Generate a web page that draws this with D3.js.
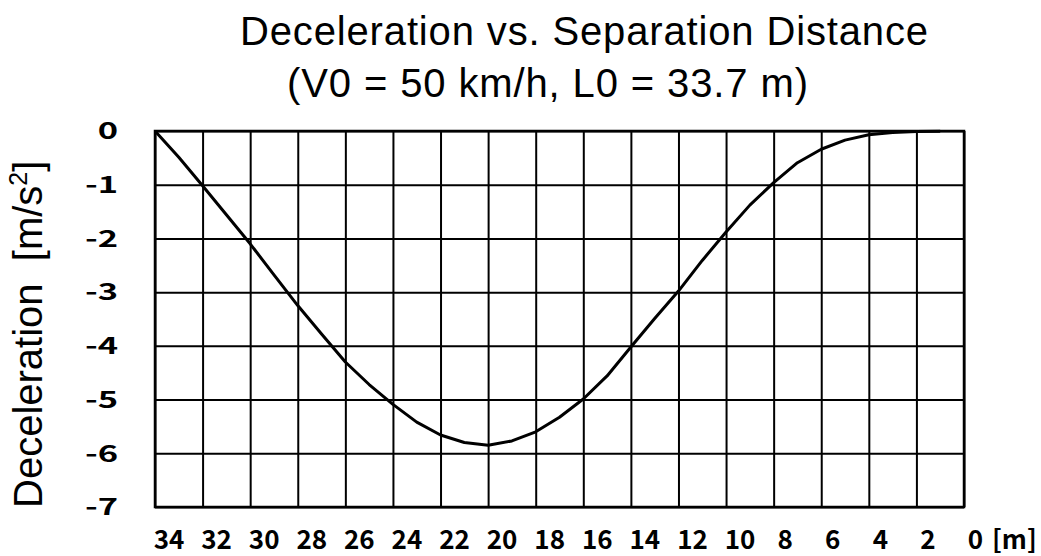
<!DOCTYPE html>
<html>
<head>
<meta charset="utf-8">
<script src="https://cdn.jsdelivr.net/npm/d3@7"></script>
<style>
  html, body { margin: 0; padding: 0; background: #fff; }
  svg { display: block; }
</style>
</head>
<body>
<svg id="chart" width="1041" height="556"></svg>
<script>
// Separation distance [m] (sampled every metre)
const distance = [34, 33, 32, 31, 30, 29, 28, 27, 26, 25, 24, 23, 22, 21, 20, 19, 18,
                  17, 16, 15, 14, 13, 12, 11, 10, 9, 8, 7, 6, 5, 4, 3, 2, 1];
// Deceleration [m/s^2] at each separation distance
const deceleration = [0, -0.49, -1.02, -1.56, -2.10, -2.68, -3.25, -3.78, -4.30, -4.72,
                      -5.09, -5.42, -5.66, -5.80, -5.85, -5.77, -5.60, -5.33, -4.99, -4.56,
                      -4.02, -3.49, -2.98, -2.41, -1.88, -1.38, -0.96, -0.59, -0.34, -0.17,
                      -0.07, -0.03, -0.01, -0.005];
// Axis ticks
const xTicks = [34, 32, 30, 28, 26, 24, 22, 20, 18, 16, 14, 12, 10, 8, 6, 4, 2, 0];
const yTicks = [0, -1, -2, -3, -4, -5, -6, -7];

const titleLine1 = "Deceleration vs. Separation Distance";
const titleLine2 = "(V0 = 50 km/h, L0 = 33.7 m)";

const svg = d3.select("#chart");
const plot = { left: 155, right: 964, top: 131, bottom: 507 };

const x = d3.scaleLinear().domain([34, 0]).range([plot.left, plot.right]);
const y = d3.scaleLinear().domain([0, -7]).range([plot.top, plot.bottom]);

const W = plot.right - plot.left;
const H = plot.bottom - plot.top;

// Grid: vertical lines every 2 m
const gx = svg.append("g")
  .attr("transform", `translate(0,${plot.bottom})`)
  .call(d3.axisBottom(x).tickValues(xTicks).tickSize(-H).tickFormat(""));
// Grid: horizontal lines every 1 m/s^2
const gy = svg.append("g")
  .attr("transform", `translate(${plot.left},0)`)
  .call(d3.axisLeft(y).tickValues(yTicks).tickSize(-W).tickFormat(""));

[gx, gy].forEach(g => {
  g.select(".domain").remove();
  g.selectAll(".tick line").attr("stroke", "#000").attr("stroke-width", 2);
});

// Plot frame
svg.append("rect")
  .attr("x", plot.left).attr("y", plot.top)
  .attr("width", W).attr("height", H)
  .attr("fill", "none").attr("stroke", "#000").attr("stroke-width", 2.5);

// Deceleration curve
const line = d3.line()
  .x((d, i) => x(distance[i]))
  .y(d => y(d));

svg.append("path")
  .datum(deceleration)
  .attr("fill", "none")
  .attr("stroke", "#000")
  .attr("stroke-width", 3)
  .attr("stroke-linejoin", "round")
  .attr("d", line);

// Y tick labels
svg.append("g").selectAll("text")
  .data(yTicks)
  .join("text")
  .attr("transform", d => `translate(118,${y(d)}) scale(1.5,1)`)
  .attr("text-anchor", "end")
  .attr("dy", "0.36em")
  .attr("font-family", "'Noto Sans CJK JP', sans-serif")
  .attr("font-weight", "bold")
  .attr("font-size", 23)
  .attr("fill", "#000")
  .text(d => d);

// X tick labels
svg.append("g").selectAll("text")
  .data(xTicks)
  .join("text")
  .attr("x", d => x(d) + (String(d).length > 1 ? 14 : 11.5))
  .attr("y", 549)
  .attr("text-anchor", "middle")
  .attr("font-family", "'Noto Sans CJK JP', sans-serif")
  .attr("font-weight", "bold")
  .attr("font-size", 26)
  .attr("fill", "#000")
  .text(d => d);

// Unit label for the x axis
svg.append("text")
  .attr("x", 992).attr("y", 549)
  .attr("font-family", "'Noto Sans CJK JP', sans-serif")
  .attr("font-weight", "bold")
  .attr("font-size", 26)
  .attr("fill", "#000")
  .text("[m]");

// Title
svg.append("text")
  .attr("x", 240).attr("y", 45)
  .attr("font-family", "'Liberation Sans', Arial, sans-serif")
  .attr("font-size", 40)
  .attr("textLength", 688)
  .attr("lengthAdjust", "spacing")
  .attr("fill", "#000")
  .text(titleLine1);

svg.append("text")
  .attr("x", 287).attr("y", 97)
  .attr("font-family", "'Liberation Sans', Arial, sans-serif")
  .attr("font-size", 40)
  .attr("textLength", 521)
  .attr("lengthAdjust", "spacing")
  .attr("fill", "#000")
  .text(titleLine2);

// Y axis title
const yTitle = svg.append("text")
  .attr("transform", "translate(42,508) rotate(-90)")
  .attr("font-family", "'Liberation Sans', Arial, sans-serif")
  .attr("font-size", 40)
  .attr("fill", "#000");
yTitle.append("tspan").text("Deceleration\u00A0\u00A0[m/s");
yTitle.append("tspan").attr("font-size", 25).attr("dy", -15).text("2");
yTitle.append("tspan").attr("dy", 15).text("]");
</script>
</body>
</html>
